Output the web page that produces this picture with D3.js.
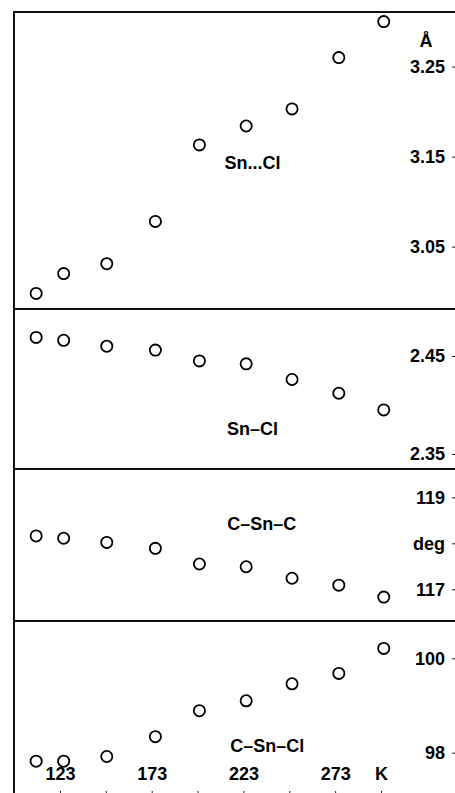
<!DOCTYPE html>
<html>
<head>
<meta charset="utf-8">
<script src="https://cdn.jsdelivr.net/npm/d3@7/dist/d3.min.js"></script>
<style>
  html, body { margin: 0; padding: 0; background: #fff; }
  svg { display: block; }
  text { font-family: "Liberation Sans", Arial, sans-serif; font-weight: bold; fill: #000; }
</style>
</head>
<body>
<svg id="chart" width="455" height="793"></svg>
<script>
// ---- data ----
const temps = [110, 125, 148.5, 175, 199, 224.5, 249.5, 275, 299.5];   // K
const snClLong = [2.998, 3.020, 3.031, 3.078, 3.163, 3.184, 3.203, 3.260, 3.300]; // Sn...Cl, Å
const snCl = [2.469, 2.466, 2.460, 2.456, 2.445, 2.442, 2.426, 2.412, 2.395];     // Sn–Cl, Å
const cSnC = [118.16, 118.11, 118.02, 117.89, 117.55, 117.49, 117.24, 117.09, 116.83]; // deg
const cSnCl = [97.82, 97.82, 97.92, 98.34, 98.89, 99.10, 99.46, 99.68, 100.21];       // deg

const xTickValues = [123, 148, 173, 198, 223, 248, 273, 298];
const xTickLabels = ["123", "", "173", "", "223", "", "273", "K"];

const panelNames = ["Sn...Cl", "Sn–Cl", "C–Sn–C", "C–Sn–Cl"];
const tickVals1 = [3.05, 3.15, 3.25];
const tickVals2 = [2.35, 2.45];
const tickVals3 = [117, 118, 119];
const tickLabels3 = ["117", "deg", "119"];
const tickVals4 = [98, 100];

// ---- layout ----
const svg = d3.select("#chart");
const frameL = 14, frameR = 458, frameT = 12, frameB = 797;
const seps = [309, 469, 621];

const x = d3.scaleLinear().domain([123, 298]).range([60, 381]);

const panels = [
  { name: panelNames[0], values: snClLong, y: d3.scaleLinear().domain([3.05, 3.25]).range([246.6, 66.6]),
    ticks: tickVals1, fmt: d => d.toFixed(2), label: [228, 3.1357] },
  { name: panelNames[1], values: snCl, y: d3.scaleLinear().domain([2.35, 2.45]).range([454, 356]),
    ticks: tickVals2, fmt: d => d.toFixed(2), label: [228, 2.3696] },
  { name: panelNames[2], values: cSnC, y: d3.scaleLinear().domain([117, 119]).range([589.3, 497.3]),
    ticks: tickVals3, fmt: d => tickLabels3[tickVals3.indexOf(d)], label: [233, 118.293] },
  { name: panelNames[3], values: cSnCl, y: d3.scaleLinear().domain([98, 100]).range([752.7, 658.3]),
    ticks: tickVals4, fmt: d => String(d), label: [236, 98.025] }
];

// frame
const frame = svg.append("g").attr("stroke", "#111").attr("stroke-width", 2).attr("fill", "none");
frame.append("path").attr("d", `M${frameL},${frameB}V${frameT}H${frameR}V${frameB}Z`);
seps.forEach(s => frame.append("line").attr("x1", frameL).attr("x2", frameR).attr("y1", s).attr("y2", s));

// panels
panels.forEach(p => {
  const ax = svg.append("g")
    .attr("transform", `translate(${frameR},0)`)
    .call(d3.axisLeft(p.y).tickValues(p.ticks).tickSize(6).tickPadding(7).tickFormat(p.fmt));
  ax.select(".domain").remove();
  ax.selectAll(".tick line").attr("stroke", "#222").attr("stroke-width", 1);
  ax.selectAll(".tick text").attr("font-size", 18).attr("font-family", "Liberation Sans, Arial, sans-serif")
    .attr("font-weight", "bold").attr("fill", "#000");

  svg.append("g").selectAll("circle")
    .data(p.values.map((v, i) => [temps[i], v]))
    .join("circle")
    .attr("cx", d => x(d[0]))
    .attr("cy", d => p.y(d[1]))
    .attr("r", 5.6)
    .attr("fill", "none")
    .attr("stroke", "#000")
    .attr("stroke-width", 1.8);

  svg.append("text")
    .attr("x", x(p.label[0]))
    .attr("y", p.y(p.label[1]))
    .attr("text-anchor", "middle")
    .attr("font-size", 18)
    .text(p.name);
});

// unit label Å
svg.append("text").attr("x", 426).attr("y", 47).attr("text-anchor", "middle").attr("font-size", 18).text("Å");

// x axis (ticks along the bottom frame, labels above)
const xa = svg.append("g")
  .attr("transform", `translate(0,${frameB})`)
  .call(d3.axisTop(x).tickValues(xTickValues).tickSize(6).tickPadding(11)
    .tickFormat(d => xTickLabels[xTickValues.indexOf(d)]));
xa.select(".domain").remove();
xa.selectAll(".tick line").attr("stroke", "#222").attr("stroke-width", 1);
xa.selectAll(".tick text").attr("font-size", 18).attr("font-family", "Liberation Sans, Arial, sans-serif")
  .attr("font-weight", "bold").attr("fill", "#000");
</script>
</body>
</html>
